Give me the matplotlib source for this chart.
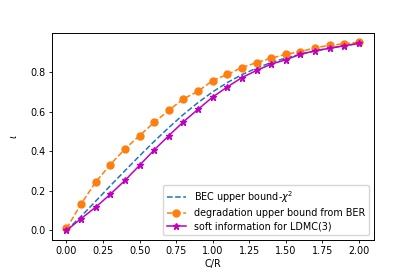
import matplotlib
matplotlib.use("Agg")
import matplotlib.pyplot as plt
import numpy as np

x = [0.0, 0.1, 0.2, 0.3, 0.4, 0.5, 0.6, 0.7, 0.8, 0.9, 1.0,
     1.1, 1.2, 1.3, 1.4, 1.5, 1.6, 1.7, 1.8, 1.9, 2.0]
bec = [0.0, 0.072, 0.148, 0.226, 0.302, 0.377, 0.450, 0.520, 0.586, 0.646, 0.700,
       0.747, 0.787, 0.820, 0.848, 0.871, 0.890, 0.906, 0.921, 0.933, 0.944]
degr = [0.01, 0.134, 0.245, 0.333, 0.412, 0.479, 0.546, 0.607, 0.665, 0.703, 0.757,
        0.788, 0.823, 0.848, 0.870, 0.890, 0.903, 0.923, 0.935, 0.943, 0.950]
soft = [0.0, 0.060, 0.118, 0.183, 0.253, 0.329, 0.407, 0.479, 0.549, 0.612, 0.674,
        0.725, 0.772, 0.808, 0.840, 0.862, 0.890, 0.908, 0.920, 0.933, 0.945]

fs = 6.9
fig = plt.figure(figsize=(4.15, 2.77), dpi=100)
ax = fig.add_axes([0.125, 0.134, 0.775, 0.747])
ax.plot(x, bec, '--', color='#1f77b4', lw=1.1, label=r'BEC upper bound-$\chi^2$')
ax.plot(x, degr, '--o', color='#ff7f0e', lw=1.1, ms=5, label='degradation upper bound from BER')
ax.plot(x, soft, '-*', color='#bf00bf', lw=1.1, ms=5, label='soft information for LDMC(3)')
ax.set_xlabel('C/R', fontsize=fs, labelpad=2)
ax.set_ylabel(r'$\iota$', fontsize=fs, labelpad=8)
ax.set_xticks([0.0, 0.25, 0.5, 0.75, 1.0, 1.25, 1.5, 1.75, 2.0])
ax.set_yticks([0.0, 0.2, 0.4, 0.6, 0.8])
ax.tick_params(labelsize=fs, length=2.5, width=0.6, pad=2)
for s in ax.spines.values():
    s.set_linewidth(0.7)
ax.legend(loc='lower right', fontsize=fs, handlelength=2.0, borderpad=0.4, labelspacing=0.35)
fig.savefig('out.png', dpi=100)
